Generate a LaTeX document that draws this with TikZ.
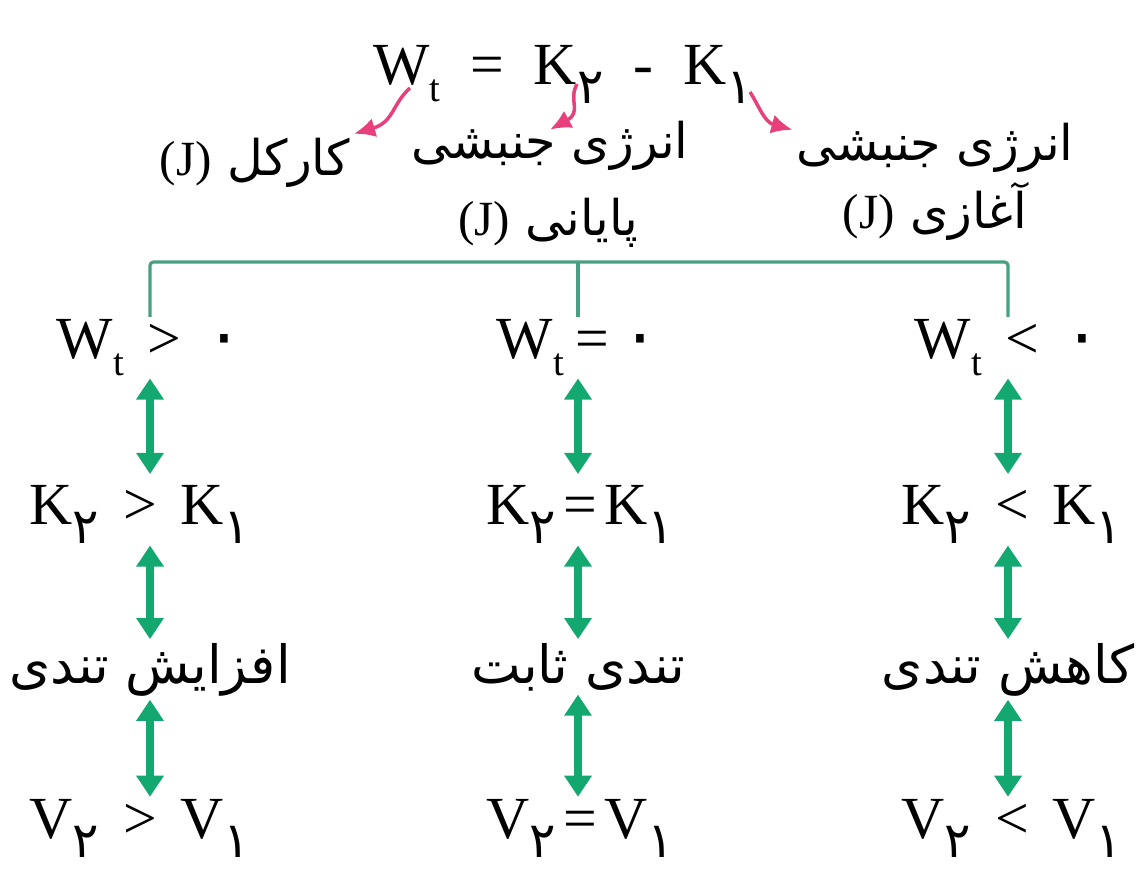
\documentclass[tikz,border=0pt]{standalone}
\usepackage{fontspec}
\setmainfont{Liberation Serif}
\newfontfamily\fafont[Script=Arabic]{DejaVu Sans}
\usetikzlibrary{arrows.meta}
\TeXXeTstate=1

\definecolor{arrowgreen}{RGB}{18,168,112}
\definecolor{bracketgreen}{RGB}{72,160,128}
\definecolor{pinkarrow}{RGB}{232,64,124}

\newcommand{\lowsub}[1]{\raisebox{-0.3em}{\fontsize{22}{22}\selectfont #1}}
\newcommand{\fasub}[1]{\raisebox{-11pt}{\fontsize{28}{28}\selectfont\fafont #1}}
\newcommand{\fazero}{{\fafont\fontsize{40}{40}\selectfont ۰}}
\newcommand{\rel}[1]{\hspace{0.4em}#1\hspace{0.4em}}

\tikzset{
  mathrow/.style={anchor=base, inner sep=1pt, font=\fontsize{34}{40}\selectfont},
  farow/.style={anchor=base, inner sep=2pt, font=\fafont\fontsize{30}{40}\selectfont},
  falabel/.style={anchor=base, inner sep=2pt, font=\fafont\fontsize{28}{34}\selectfont},
  dblarrow/.style={arrowgreen, line width=5pt,
    {Triangle[width=15pt,length=12pt]}-{Triangle[width=15pt,length=12pt]}},
  bracket/.style={bracketgreen, line width=1.8pt, rounded corners=2pt},
  pinkarr/.style={pinkarrow, line width=2pt, -{Latex[length=12pt,width=11pt]}},
}

\begin{document}
\begin{tikzpicture}[x=0.02cm, y=-0.02cm]
  \useasboundingbox (0,0) rectangle (1142,870);

  % the relation on top
  \node[mathrow] (eq) at (563,84) {W\lowsub{t}\hspace{0.5em}=\hspace{0.5em}K\fasub{۲}\hspace{0.5em}-\hspace{0.5em}K\fasub{۱}};

  % what each term means
  \node[falabel] (lblWork) at (255,175) {\beginR کارکل \beginL{\rmfamily(J)}\endL\endR};
  \node[falabel, text height=14pt] (lblFinalA) at (550,158) {\beginR انرژی جنبشی\endR};
  \node[falabel] (lblFinalB) at (548,235) {\beginR پایانی \beginL{\rmfamily(J)}\endL\endR};
  \node[falabel, text height=15pt] (lblInitA) at (935,160) {\beginR انرژی جنبشی\endR};
  \node[falabel] (lblInitB) at (935,228) {\beginR آغازی \beginL{\rmfamily(J)}\endL\endR};

  \coordinate (tailW) at (410,88);
  \coordinate (tailK2) at (577,84);
  \coordinate (tailK1) at (750,92);
  \draw[pinkarr] (tailW) .. controls (392,104) and (394,122) .. (lblWork.north east);
  \draw[pinkarr] (tailK2) .. controls (568,100) and (582,112) .. (lblFinalA.north);
  \draw[pinkarr] (tailK1) .. controls (758,104) and (764,122) .. (lblInitA.north west);

  % three cases
  \node[mathrow] (w1) at (150,358) {W\lowsub{t}\rel{>}\fazero};
  \node[mathrow] (w2) at (578,358) {W\lowsub{t}\hspace{0.2em}=\hspace{0.2em}\fazero};
  \node[mathrow] (w3) at (1008,358) {W\lowsub{t}\rel{<}\fazero};

  \node[mathrow] (k1) at (140,524) {K\fasub{۲}\rel{>}K\fasub{۱}};
  \node[mathrow] (k2) at (580,524) {K\fasub{۲}\hspace{0.12em}=\hspace{0.12em}K\fasub{۱}};
  \node[mathrow] (k3) at (1012,524) {K\fasub{۲}\rel{<}K\fasub{۱}};

  \node[farow] (s1) at (150,683) {\beginR افزایش تندی\endR};
  \node[farow] (s2) at (578,683) {\beginR تندی ثابت\endR};
  \node[farow] (s3) at (1008,683) {\beginR کاهش تندی\endR};

  \node[mathrow] (v1) at (140,838) {V\fasub{۲}\rel{>}V\fasub{۱}};
  \node[mathrow] (v2) at (580,838) {V\fasub{۲}\hspace{0.12em}=\hspace{0.12em}V\fasub{۱}};
  \node[mathrow] (v3) at (1012,838) {V\fasub{۲}\rel{<}V\fasub{۱}};

  % bracket
  \coordinate (brMid) at (578,262);
  \draw[bracket] (w1.north) |- (brMid) -| (w3.north);
  \draw[bracket] (w2.north) -- (brMid);

  % two-way arrows
  \foreach \c in {1,2,3}{
    \draw[dblarrow, shorten >=5pt] (w\c.south) -- (w\c.south |- k\c.north);
    \draw[dblarrow] (s\c.north |- k\c.south) -- (s\c.north);
    \draw[dblarrow] (s\c) -- (v\c.north -| s\c);
  }
\end{tikzpicture}
\end{document}
